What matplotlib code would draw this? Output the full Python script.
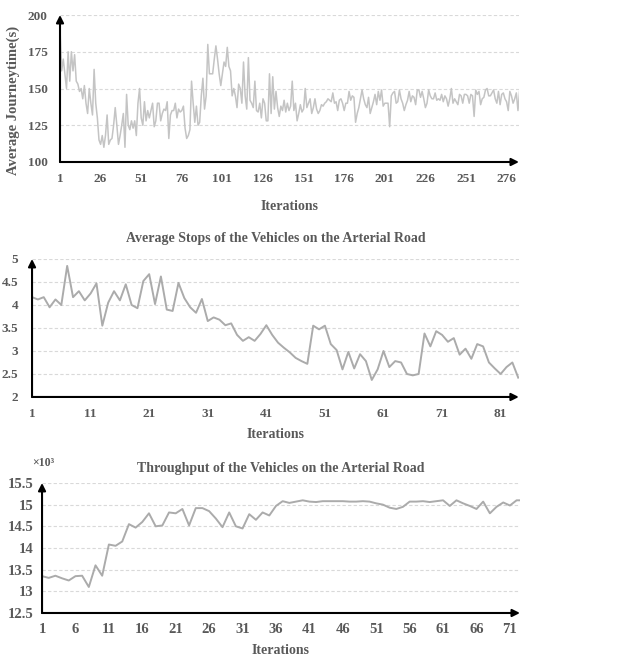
import matplotlib
matplotlib.use("Agg")
from matplotlib import pyplot as plt
import numpy as np

#fonts - Times-like bold grey text
plt.rcParams['font.family'] = ['Liberation Serif', 'DejaVu Serif']
plt.rcParams['font.weight'] = 'bold'
plt.rcParams['axes.labelweight'] = 'bold'
plt.rcParams['axes.titleweight'] = 'bold'
text_grey = '#595959'

#average journey time per iteration (chart 1)
journey_time = [
    190, 162, 170, 160, 150, 175, 155, 175, 162, 173, 155, 153, 148, 150, 143, 152, 140, 133, 150, 140, 132, 163, 140, 130, 115,
    112, 118, 110, 118, 132, 112, 115, 116, 125, 137, 125, 112, 118, 125, 133, 110, 146, 125, 122, 128, 123, 128, 118, 140, 150,
    130, 125, 141, 128, 135, 130, 135, 140, 124, 128, 140, 140, 128, 133, 136, 135, 141, 116, 132, 135, 135, 140, 130, 136, 134,
    135, 138, 123, 116, 118, 122, 155, 140, 127, 138, 125, 127, 145, 157, 136, 145, 180, 160, 160, 160, 170, 179, 170, 160, 152,
    160, 168, 165, 178, 165, 162, 145, 150, 145, 137, 153, 150, 140, 168, 145, 136, 171, 142, 140, 137, 155, 135, 134, 140, 130,
    143, 140, 128, 128, 160, 133, 158, 136, 148, 137, 131, 138, 135, 142, 134, 140, 135, 138, 155, 135, 140, 128, 133, 139, 134,
    136, 150, 137, 140, 143, 133, 137, 143, 136, 133, 135, 139, 138, 140, 141, 143, 142, 141, 147, 140, 141, 135, 142, 143, 140,
    135, 140, 140, 148, 142, 145, 144, 127, 133, 137, 143, 149, 143, 139, 137, 144, 133, 137, 141, 146, 139, 148, 142, 149, 138,
    140, 140, 140, 124, 145, 147, 148, 140, 141, 149, 143, 140, 135, 139, 142, 148, 141, 145, 144, 139, 149, 149, 144, 148, 143,
    137, 140, 149, 145, 143, 143, 147, 142, 143, 142, 146, 141, 145, 143, 138, 143, 150, 140, 143, 141, 139, 146, 145, 140, 146,
    146, 145, 140, 146, 145, 131, 149, 146, 148, 139, 143, 144, 149, 150, 145, 145, 147, 149, 143, 140, 148, 139, 146, 147, 143,
    141, 135, 148, 145, 140, 143, 147, 135, 148,
]

#average stops (chart 2)
avg_stops = [
    4.17, 4.12, 4.17, 3.95, 4.12, 4.0, 4.85, 4.17, 4.3, 4.1, 4.25, 4.47, 3.55, 4.05, 4.3, 4.1, 4.45, 4.0, 3.93, 4.52,
    4.67, 4.02, 4.62, 3.9, 3.87, 4.48, 4.15, 3.95, 3.83, 4.13, 3.65, 3.73, 3.68, 3.56, 3.6, 3.35, 3.22, 3.3, 3.22, 3.37,
    3.56, 3.35, 3.18, 3.07, 2.97, 2.85, 2.78, 2.72, 3.55, 3.47, 3.55, 3.15, 3.02, 2.6, 2.98, 2.62, 2.93, 2.78, 2.37, 2.6,
    3.0, 2.65, 2.78, 2.75, 2.5, 2.47, 2.5, 3.38, 3.1, 3.43, 3.35, 3.2, 3.28, 2.92, 3.05, 2.83, 3.15, 3.1, 2.75, 2.62,
    2.5, 2.65, 2.75, 2.42,
]

#throughput in thousands (chart 3)
throughput = [
    13.35, 13.31, 13.36, 13.3, 13.25, 13.35, 13.36, 13.1, 13.6, 13.36, 14.08, 14.05, 14.15, 14.55, 14.47, 14.6, 14.8, 14.5,
    14.52, 14.82, 14.8, 14.9, 14.52, 14.92, 14.92, 14.85, 14.68, 14.48, 14.82, 14.5, 14.45, 14.78, 14.65, 14.82, 14.75, 14.97,
    15.08, 15.04, 15.07, 15.1, 15.07, 15.06, 15.08, 15.08, 15.08, 15.08, 15.07, 15.07, 15.08, 15.07, 15.03, 15.0, 14.93, 14.9,
    14.95, 15.07, 15.07, 15.08, 15.06, 15.08, 15.1, 14.97, 15.1, 15.03, 14.97, 14.9, 15.07, 14.8, 14.95, 15.05, 14.98, 15.1, 15.1,
]

ticks1 = [1, 26, 51, 76, 101, 126, 151, 176, 201, 226, 251, 276]
yticks1 = [100, 125, 150, 175, 200]
ticks2 = [1, 11, 21, 31, 41, 51, 61, 71, 81]
yticks2 = [2, 2.5, 3, 3.5, 4, 4.5, 5]
ticks3 = [1, 6, 11, 16, 21, 26, 31, 36, 41, 46, 51, 56, 61, 66, 71]
yticks3 = [12.5, 13, 13.5, 14, 14.5, 15, 15.5]

fig = plt.figure(figsize=(6.33, 6.58), dpi=100)


def style_axes(ax, xt, yt, xlim, ylim, xpad, ypad, fs=9.5):
    ax.set_xlim(*xlim)
    ax.set_ylim(*ylim)
    ax.set_xticks(xt)
    ax.set_yticks(yt)
    ax.set_yticklabels([('%g' % v) for v in yt])
    for s in ax.spines.values():
        s.set_visible(False)
    ax.tick_params(length=0, labelsize=fs, labelcolor=text_grey)
    ax.tick_params(axis='x', pad=xpad)
    ax.tick_params(axis='y', pad=ypad)
    for v in yt[1:]:
        ax.axhline(v, color='#d9d9d9', lw=0.8, ls=(0, (3, 2)), zorder=0)
    # axis lines with arrow heads
    ax.annotate('', xy=(0, 1), xytext=(0, 0), xycoords='axes fraction',
                arrowprops=dict(arrowstyle='-|>', color='black', lw=1.5, mutation_scale=11, shrinkA=0, shrinkB=0))
    ax.annotate('', xy=(1, 0), xytext=(0, 0), xycoords='axes fraction',
                arrowprops=dict(arrowstyle='-|>', color='black', lw=1.5, mutation_scale=11, shrinkA=0, shrinkB=0))


#chart 1
ax1 = fig.add_axes([0.0948, 0.7538, 0.725, 0.2234])
x1 = np.arange(1, len(journey_time) + 1)
ax1.plot(x1, journey_time, color='#c4c4c4', lw=1.1)
style_axes(ax1, ticks1, yticks1, (1, 283.6), (100, 200), 8, 9)
ax1.set_xlabel('Iterations', fontsize=10, color=text_grey, labelpad=11)
ax1.set_ylabel('Average Journeytime(s)', fontsize=10.5, color=text_grey)
ax1.yaxis.set_label_coords(-0.088, 0.42)

#chart 2
ax2 = fig.add_axes([0.0506, 0.3967, 0.769, 0.2097])
x2 = np.arange(1, len(avg_stops) + 1)
ax2.plot(x2, avg_stops, color='#ababab', lw=1.4)
style_axes(ax2, ticks2, yticks2, (1, 84.1), (2, 5), 8, 10)
ax2.set_xlabel('Iterations', fontsize=10, color=text_grey, labelpad=6)
ax2.set_title('Average Stops of the Vehicles on the Arterial Road', fontsize=10, color=text_grey, pad=12)

#chart 3
ax3 = fig.add_axes([0.0664, 0.0684, 0.755, 0.1976])
x3 = np.arange(1, len(throughput) + 1)
ax3.plot(x3, throughput, color='#ababab', lw=1.4)
style_axes(ax3, ticks3, yticks3, (1, 72.5), (12.5, 15.5), 7, 6, fs=10.5)
ax3.set_xlabel('Iterations', fontsize=10, color=text_grey, labelpad=6)
ax3.set_title('Throughput of the Vehicles on the Arterial Road', fontsize=10, color=text_grey, pad=8)
ax3.text(0.003, 1.11, '×10³', transform=ax3.transAxes, fontsize=8.5, color=text_grey, ha='center', va='bottom')

fig.savefig('out.png', dpi=100)
